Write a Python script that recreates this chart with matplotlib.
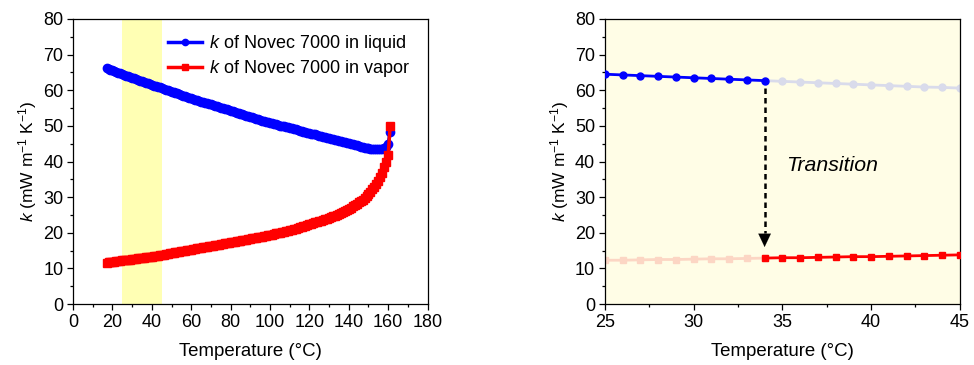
import matplotlib.pyplot as plt
import numpy as np

plt.rcParams['font.family'] = ['Liberation Sans', 'DejaVu Sans']
plt.rcParams['mathtext.fontset'] = 'custom'
plt.rcParams['mathtext.rm'] = 'Liberation Sans'
plt.rcParams['mathtext.it'] = 'Liberation Sans:italic'

# temperature (degC), 1 degree steps from 17 to 161
temp = list(range(17, 162))

k_liquid = [
    66.2, 66.0, 65.8, 65.6, 65.4, 65.1, 64.9, 64.7, 64.5, 64.3,
    64.1, 63.9, 63.7, 63.5, 63.3, 63.1, 62.9, 62.7, 62.5, 62.3,
    62.1, 61.9, 61.7, 61.5, 61.3, 61.1, 60.9, 60.8, 60.6, 60.4,
    60.2, 60.0, 59.8, 59.6, 59.4, 59.3, 59.1, 58.9, 58.7, 58.5,
    58.3, 58.1, 57.9, 57.7, 57.5, 57.4, 57.2, 57.0, 56.8, 56.7,
    56.5, 56.3, 56.1, 56.0, 55.8, 55.6, 55.5, 55.3, 55.1, 54.9,
    54.8, 54.6, 54.4, 54.3, 54.1, 53.9, 53.7, 53.6, 53.4, 53.2,
    53.0, 52.9, 52.7, 52.5, 52.4, 52.2, 52.0, 51.8, 51.7, 51.5,
    51.3, 51.2, 51.0, 50.9, 50.7, 50.6, 50.4, 50.3, 50.1, 50.0,
    49.9, 49.7, 49.6, 49.4, 49.3, 49.1, 49.0, 48.9, 48.7, 48.6,
    48.4, 48.3, 48.1, 48.0, 47.8, 47.7, 47.6, 47.4, 47.3, 47.1,
    47.0, 46.8, 46.7, 46.5, 46.4, 46.3, 46.1, 46.0, 45.8, 45.7,
    45.5, 45.4, 45.2, 45.1, 45.0, 44.8, 44.7, 44.5, 44.4, 44.2,
    44.1, 43.9, 43.8, 43.7, 43.6, 43.6, 43.5, 43.5, 43.5, 43.5,
    43.6, 43.8, 44.2, 44.9, 48.3,
]

k_vapor = [
    11.6, 11.7, 11.8, 11.8, 11.9, 12.0, 12.1, 12.2, 12.3, 12.3,
    12.4, 12.5, 12.5, 12.6, 12.7, 12.7, 12.8, 12.9, 13.0, 13.0,
    13.1, 13.2, 13.3, 13.3, 13.4, 13.5, 13.6, 13.7, 13.8, 13.9,
    14.0, 14.1, 14.2, 14.3, 14.4, 14.5, 14.6, 14.7, 14.8, 14.9,
    15.0, 15.1, 15.2, 15.3, 15.4, 15.5, 15.6, 15.7, 15.8, 15.9,
    16.0, 16.1, 16.2, 16.3, 16.4, 16.5, 16.6, 16.7, 16.8, 16.9,
    17.0, 17.1, 17.2, 17.3, 17.4, 17.5, 17.6, 17.7, 17.8, 17.9,
    18.0, 18.1, 18.2, 18.3, 18.4, 18.5, 18.6, 18.7, 18.8, 18.9,
    19.0, 19.1, 19.3, 19.4, 19.5, 19.6, 19.8, 19.9, 20.0, 20.2,
    20.3, 20.5, 20.6, 20.8, 20.9, 21.1, 21.2, 21.4, 21.5, 21.7,
    21.9, 22.0, 22.2, 22.4, 22.5, 22.7, 22.9, 23.0, 23.2, 23.4,
    23.6, 23.8, 24.0, 24.2, 24.4, 24.6, 24.8, 25.1, 25.3, 25.6,
    25.8, 26.1, 26.4, 26.7, 27.0, 27.4, 27.7, 28.1, 28.5, 28.9,
    29.3, 29.8, 30.3, 30.9, 31.5, 32.2, 32.9, 33.7, 34.6, 35.6,
    36.7, 38.6, 40.0, 41.8, 50.0,
]

band = (25, 45)          # highlighted temperature window
t_transition = 34        # boiling point of Novec 7000

blue = '#0000ff'
red = '#ff0000'
blue_faded = '#d9dbeb'
red_faded = '#fcd6c4'
ylabel = r'$k$ (mW m$^{-1}$ K$^{-1}$)'

fig = plt.figure(figsize=(9.74, 3.65), dpi=100)
ax1 = fig.add_axes([0.075, 0.167, 0.364, 0.781])
ax2 = fig.add_axes([0.621, 0.167, 0.3645, 0.781])


def style_axis(ax):
    for s in ax.spines.values():
        s.set_linewidth(0.9)
    ax.tick_params(which='both', direction='out', top=False, right=False,
                   labelsize=13, pad=3)
    ax.tick_params(which='major', length=4, width=0.9)
    ax.tick_params(which='minor', length=2.5, width=0.9)
    ax.set_ylim(0, 80)
    ax.set_yticks(range(0, 81, 10))
    ax.set_yticks(range(5, 80, 10), minor=True)
    ax.set_xlabel('Temperature (°C)', fontsize=13.4, labelpad=9)
    ax.set_ylabel(ylabel, fontsize=12.5, labelpad=3)


# left panel: whole range
ax1.axvspan(band[0], band[1], color='#ffffb4', zorder=0, lw=0)
ax1.plot(temp, k_liquid, '-o', color=blue, ms=6, lw=2.5,
         label=r'$k$ of Novec 7000 in liquid')
ax1.plot(temp, k_vapor, '-s', color=red, ms=5.2, lw=2.5,
         label=r'$k$ of Novec 7000 in vapor')
ax1.set_xlim(0, 180)
ax1.set_xticks(range(0, 181, 20))
ax1.set_xticks(range(10, 180, 20), minor=True)
style_axis(ax1)
ax1.legend(loc='upper right', frameon=False, fontsize=13, handlelength=1.9,
           handletextpad=0.35, labelspacing=0.2, borderaxespad=0.4,
           markerscale=0.75, bbox_to_anchor=(0.99, 1.0))

# right panel: zoom on the highlighted window
t = np.array(temp)
liq = np.array(k_liquid)
vap = np.array(k_vapor)
before = (t >= band[0]) & (t <= t_transition)
after = (t >= t_transition) & (t <= band[1])

ax2.set_facecolor('#fffde6')
ax2.plot(t[after], liq[after], '-o', color=blue_faded, ms=5, lw=2, zorder=2)
ax2.plot(t[before], vap[before], '-s', color=red_faded, ms=4.5, lw=2, zorder=2)
ax2.plot(t[before], liq[before], '-o', color=blue, ms=5, lw=2, zorder=3)
ax2.plot(t[after], vap[after], '-s', color=red, ms=4.5, lw=2, zorder=3)

# dashed transition arrow (solid head drawn separately)
ax2.plot([t_transition, t_transition], [60.5, 19.8], color='k', lw=1.8,
         ls=(0, (2.2, 1.6)), zorder=4)
ax2.annotate('', xy=(t_transition, 16.0), xytext=(t_transition, 19.9),
             arrowprops=dict(arrowstyle='-|>,head_width=0.45,head_length=0.95',
                             color='k', lw=0.1, shrinkA=0, shrinkB=0),
             zorder=4)
ax2.text(35.2, 39.0, 'Transition', style='italic', fontsize=15.3,
         va='center', ha='left')

ax2.set_xlim(25, 45)
ax2.set_xticks(range(25, 46, 5))
ax2.set_xticks(np.arange(27.5, 45, 5), minor=True)
style_axis(ax2)

fig.savefig('out.png', dpi=100)
